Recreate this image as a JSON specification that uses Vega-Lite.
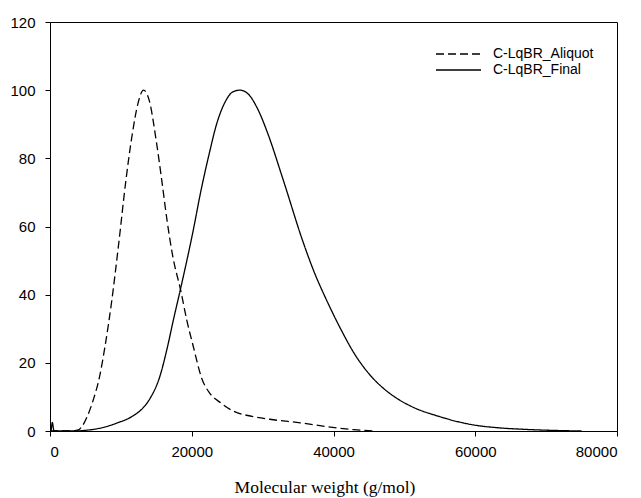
{
  "$schema": "https://vega.github.io/schema/vega-lite/v6.json",
  "autosize": {"type": "none"},
  "padding": {"left": 50, "top": 22, "right": 24, "bottom": 67},
  "width": 567,
  "height": 409,
  "background": "white",
  "config": {
    "view": {"stroke": "black", "strokeWidth": 1},
    "axis": {
      "grid": false,
      "domainColor": "black",
      "tickColor": "black",
      "labelColor": "black",
      "labelFont": "Liberation Sans",
      "labelFontSize": 15,
      "tickSize": 5,
      "titleColor": "black"
    }
  },
  "data": {
    "values": [
      {"series": "C-LqBR_Aliquot", "mw": 0, "value": 0},
      {"series": "C-LqBR_Aliquot", "mw": 3000, "value": 0},
      {"series": "C-LqBR_Aliquot", "mw": 4000, "value": 0.3},
      {"series": "C-LqBR_Aliquot", "mw": 4500, "value": 1.3},
      {"series": "C-LqBR_Aliquot", "mw": 5300, "value": 4.5},
      {"series": "C-LqBR_Aliquot", "mw": 6100, "value": 9.1},
      {"series": "C-LqBR_Aliquot", "mw": 7000, "value": 16},
      {"series": "C-LqBR_Aliquot", "mw": 7760, "value": 24.8},
      {"series": "C-LqBR_Aliquot", "mw": 8700, "value": 38},
      {"series": "C-LqBR_Aliquot", "mw": 9640, "value": 54},
      {"series": "C-LqBR_Aliquot", "mw": 10720, "value": 73.7},
      {"series": "C-LqBR_Aliquot", "mw": 11600, "value": 87},
      {"series": "C-LqBR_Aliquot", "mw": 12400, "value": 96},
      {"series": "C-LqBR_Aliquot", "mw": 13200, "value": 100},
      {"series": "C-LqBR_Aliquot", "mw": 14000, "value": 97},
      {"series": "C-LqBR_Aliquot", "mw": 15000, "value": 85},
      {"series": "C-LqBR_Aliquot", "mw": 15760, "value": 73.7},
      {"series": "C-LqBR_Aliquot", "mw": 16500, "value": 62},
      {"series": "C-LqBR_Aliquot", "mw": 17300, "value": 51.5},
      {"series": "C-LqBR_Aliquot", "mw": 18490, "value": 40.8},
      {"series": "C-LqBR_Aliquot", "mw": 19300, "value": 32.5},
      {"series": "C-LqBR_Aliquot", "mw": 20220, "value": 24.8},
      {"series": "C-LqBR_Aliquot", "mw": 21400, "value": 15.5},
      {"series": "C-LqBR_Aliquot", "mw": 22500, "value": 11.2},
      {"series": "C-LqBR_Aliquot", "mw": 24000, "value": 8.4},
      {"series": "C-LqBR_Aliquot", "mw": 25900, "value": 5.8},
      {"series": "C-LqBR_Aliquot", "mw": 28500, "value": 4.3},
      {"series": "C-LqBR_Aliquot", "mw": 31500, "value": 3.3},
      {"series": "C-LqBR_Aliquot", "mw": 35300, "value": 2.4},
      {"series": "C-LqBR_Aliquot", "mw": 39000, "value": 1.3},
      {"series": "C-LqBR_Aliquot", "mw": 42800, "value": 0.4},
      {"series": "C-LqBR_Aliquot", "mw": 46000, "value": 0},
      {"series": "C-LqBR_Final", "mw": 0, "value": 0},
      {"series": "C-LqBR_Final", "mw": 120, "value": 0},
      {"series": "C-LqBR_Final", "mw": 330, "value": 2.5},
      {"series": "C-LqBR_Final", "mw": 560, "value": 0},
      {"series": "C-LqBR_Final", "mw": 3500, "value": 0},
      {"series": "C-LqBR_Final", "mw": 5000, "value": 0.2},
      {"series": "C-LqBR_Final", "mw": 7000, "value": 0.8},
      {"series": "C-LqBR_Final", "mw": 9400, "value": 2.3},
      {"series": "C-LqBR_Final", "mw": 11760, "value": 4.5},
      {"series": "C-LqBR_Final", "mw": 13000, "value": 6.5},
      {"series": "C-LqBR_Final", "mw": 14100, "value": 9.5},
      {"series": "C-LqBR_Final", "mw": 15500, "value": 16},
      {"series": "C-LqBR_Final", "mw": 16500, "value": 24},
      {"series": "C-LqBR_Final", "mw": 17400, "value": 32.5},
      {"series": "C-LqBR_Final", "mw": 18450, "value": 42},
      {"series": "C-LqBR_Final", "mw": 20220, "value": 59},
      {"series": "C-LqBR_Final", "mw": 21200, "value": 69.5},
      {"series": "C-LqBR_Final", "mw": 22480, "value": 81.5},
      {"series": "C-LqBR_Final", "mw": 23500, "value": 90},
      {"series": "C-LqBR_Final", "mw": 24700, "value": 96.5},
      {"series": "C-LqBR_Final", "mw": 25800, "value": 99.5},
      {"series": "C-LqBR_Final", "mw": 26800, "value": 100},
      {"series": "C-LqBR_Final", "mw": 27900, "value": 99},
      {"series": "C-LqBR_Final", "mw": 29300, "value": 94.5},
      {"series": "C-LqBR_Final", "mw": 30600, "value": 88},
      {"series": "C-LqBR_Final", "mw": 32900, "value": 73.7},
      {"series": "C-LqBR_Final", "mw": 35700, "value": 55.5},
      {"series": "C-LqBR_Final", "mw": 37300, "value": 46.5},
      {"series": "C-LqBR_Final", "mw": 39000, "value": 38.5},
      {"series": "C-LqBR_Final", "mw": 41000, "value": 30},
      {"series": "C-LqBR_Final", "mw": 43000, "value": 22.5},
      {"series": "C-LqBR_Final", "mw": 45000, "value": 16.8},
      {"series": "C-LqBR_Final", "mw": 47000, "value": 12.6},
      {"series": "C-LqBR_Final", "mw": 49000, "value": 9.5},
      {"series": "C-LqBR_Final", "mw": 51000, "value": 7.2},
      {"series": "C-LqBR_Final", "mw": 55000, "value": 4.2},
      {"series": "C-LqBR_Final", "mw": 59700, "value": 1.8},
      {"series": "C-LqBR_Final", "mw": 63500, "value": 0.9},
      {"series": "C-LqBR_Final", "mw": 66800, "value": 0.5},
      {"series": "C-LqBR_Final", "mw": 71500, "value": 0.15},
      {"series": "C-LqBR_Final", "mw": 75000, "value": 0}
    ]
  },
  "mark": {"type": "line", "color": "black", "strokeWidth": 1.3, "clip": true, "interpolate": "monotone"},
  "encoding": {
    "x": {
      "field": "mw",
      "type": "quantitative",
      "scale": {"domain": [0, 80000], "nice": false, "zero": false},
      "axis": {
        "values": [0, 20000, 40000, 60000, 80000],
        "format": "d",
        "labelPadding": 8,
        "title": "Molecular weight (g/mol)",
        "titleFont": "Liberation Serif",
        "titleFontSize": 17.5,
        "titleFontWeight": "normal",
        "titleBaseline": "alphabetic",
        "titleX": 274.5,
        "titleY": 61.5
      }
    },
    "y": {
      "field": "value",
      "type": "quantitative",
      "scale": {"domain": [0, 120], "nice": false},
      "axis": {
        "values": [0, 20, 40, 60, 80, 100, 120],
        "labelPadding": 10,
        "title": null
      }
    },
    "strokeDash": {
      "field": "series",
      "type": "nominal",
      "scale": {"domain": ["C-LqBR_Aliquot", "C-LqBR_Final"], "range": [[8, 4], [1, 0]]},
      "legend": {
        "title": null,
        "orient": "none",
        "legendX": 401.5,
        "legendY": 25,
        "padding": 0,
        "symbolType": "M-4.5,0H4.5",
        "symbolSize": 100,
        "symbolFillColor": "transparent",
        "symbolStrokeColor": "black",
        "symbolStrokeWidth": 1.3,
        "labelFont": "Liberation Sans",
        "labelFontSize": 14,
        "labelColor": "black",
        "labelOffset": 27.5,
        "rowPadding": 2
      }
    }
  }
}
